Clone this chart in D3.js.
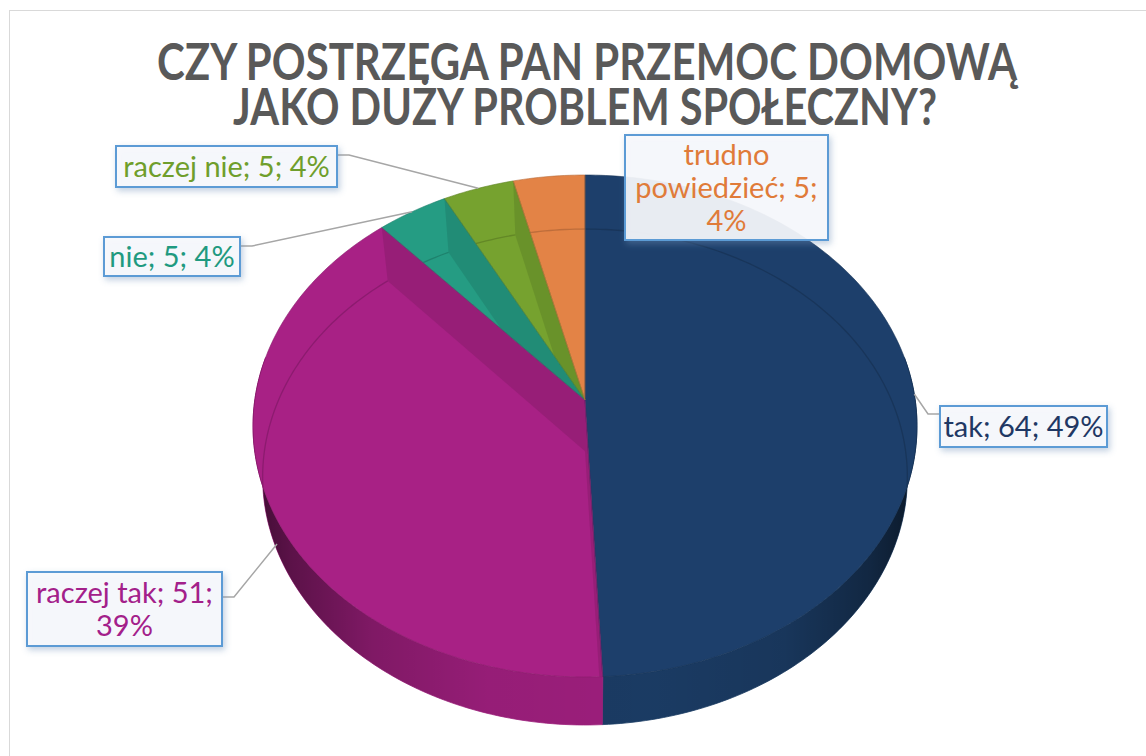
<!DOCTYPE html>
<html><head><meta charset="utf-8">
<script src="https://cdn.jsdelivr.net/npm/d3@7"></script>
<style>html,body{margin:0;padding:0;background:#fff;}svg{display:block;}</style>
</head><body>
<svg id="chart" width="1146" height="756"></svg>
<script>
// ---- data ----
const titleLines = ["CZY POSTRZEGA PAN PRZEMOC DOMOWĄ", "JAKO DUŻY PROBLEM SPOŁECZNY?"];
const categories = ["tak", "raczej tak", "nie", "raczej nie", "trudno powiedzieć"];
const values = [64, 51, 5, 5, 5];
const percents = ["49%", "39%", "4%", "4%", "4%"];
const sliceColors = ["#1d3f6b", "#a82185", "#259c83", "#76a22f", "#e38346"];
const textColors = ["#1f3864", "#a3208a", "#1f9a80", "#6f9e2b", "#e07b39"];

// ---- layout ----
const W = 1146, H = 756;
const cx = 585, cy = 400, S = 330.2, K = 248.3, P = 0.1036;
const botScale = 0.971, botA = 0.988, botB = 56.1;
const labelLayout = [
  {box: [940, 406, 167, 41], breaks: [], end: null},
  {box: [27, 572, 195, 74], breaks: [2], end: [277, 544]},
  {box: [104, 237, 136, 39], breaks: [], end: null},
  {box: [116, 146, 221, 41], breaks: [], end: null},
  {box: [625, 135, 203, 105], breaks: [0, 2], end: null}
];

const svg = d3.select("#chart");
const defs = svg.append("defs");

function proj(a, r) {
  const X = r * Math.sin(a), Z = -r * Math.cos(a);
  const w = 1 - P * Z;
  return [cx + S * X / w, cy + K * Z / w];
}
function bot(a, r) {
  const [x, y] = proj(a, r);
  return [cx + (x - cx) * botScale, botA * y + botB];
}
function rim(a0, a1, fn) {
  const n = Math.max(2, Math.ceil((a1 - a0) / (Math.PI / 180)));
  return d3.range(n + 1).map(i => fn(a0 + (a1 - a0) * i / n, 1));
}
const line = d3.line().curve(d3.curveLinear);

const arcs = d3.pie().sort(null).value(d => d)(values);

// border
svg.append("rect").attr("x", 9.5).attr("y", 10.5).attr("width", W + 20).attr("height", H + 20)
  .attr("fill", "#fff").attr("stroke", "#d9d9d9").attr("stroke-width", 1);

// side walls (front)
const deg = Math.PI / 180;
const sideG = svg.append("g");
arcs.forEach((d, i) => {
  const a0 = Math.max(d.startAngle, 80 * deg), a1 = Math.min(d.endAngle, 280 * deg);
  if (a1 <= a0) return;
  const pts = rim(a0, a1, proj).concat(rim(a0, a1, bot).reverse());
  sideG.append("path").attr("d", line(pts) + "Z")
    .attr("fill", d3.color(sliceColors[i]).darker(0.15)).attr("stroke", d3.color(sliceColors[i]).darker(0.15)).attr("stroke-width", 0.8);
});
const grad = defs.append("linearGradient").attr("id", "sideShade")
  .attr("gradientUnits", "userSpaceOnUse").attr("x1", 253).attr("x2", 917).attr("y1", 0).attr("y2", 0);
[[0, 0.6], [0.06, 0.42], [0.18, 0.2], [0.35, 0.06], [0.6, 0.02], [0.8, 0.1], [0.93, 0.35], [1, 0.6]]
  .forEach(([o, a]) => grad.append("stop").attr("offset", o).attr("stop-color", "#000").attr("stop-opacity", a));
{
  const pts = rim(80 * deg, 280 * deg, proj).concat(rim(80 * deg, 280 * deg, bot).reverse());
  sideG.append("path").attr("d", line(pts) + "Z").attr("fill", "url(#sideShade)");
}

// top faces
const topG = svg.append("g");
arcs.forEach((d, i) => {
  const pts = [proj(0, 0)].concat(rim(d.startAngle, d.endAngle, proj));
  const dStr = line(pts) + "Z";
  defs.append("clipPath").attr("id", "clip" + i).append("path").attr("d", dStr);
  topG.append("path").attr("d", dStr).attr("fill", sliceColors[i]);
});

// internal walls seen through top faces
const boundaries = arcs.map(d => d.endAngle).filter(a => a < 2 * Math.PI - 1e-6);
boundaries.forEach((b, k) => {
  const strip = [proj(b, 1), proj(b, 0), bot(b, 0), bot(b, 1)];
  [k, k + 1].forEach(i => {
    topG.append("path").attr("d", line(strip) + "Z").attr("clip-path", `url(#clip${i})`)
      .attr("fill", d3.color(sliceColors[i]).darker(0.4)).attr("opacity", 0.75);
  });
});
// bottom rim seen through
arcs.forEach((d, i) => {
  topG.append("path").attr("d", line(rim(d.startAngle, d.endAngle, bot)))
    .attr("clip-path", `url(#clip${i})`).attr("fill", "none")
    .attr("stroke", d3.color(sliceColors[i]).darker(0.9)).attr("stroke-opacity", 0.6).attr("stroke-width", 1.3);
});
// outlines
arcs.forEach((d, i) => {
  const pts = [proj(0, 0)].concat(rim(d.startAngle, d.endAngle, proj));
  topG.append("path").attr("d", line(pts) + "Z").attr("fill", "none")
    .attr("stroke", d3.color(sliceColors[i]).darker(0.6)).attr("stroke-opacity", 0.6).attr("stroke-width", 1);
});

// label shadow
const f = defs.append("filter").attr("id", "shadow").attr("x", "-20%").attr("y", "-20%").attr("width", "140%").attr("height", "150%");
f.append("feDropShadow").attr("dx", 2).attr("dy", 3).attr("stdDeviation", 3)
  .attr("flood-color", "#6f8fb8").attr("flood-opacity", 0.45);

// leader lines
const leaderG = svg.append("g").attr("fill", "none").attr("stroke", "#a6a6a6").attr("stroke-width", 1.5);
arcs.forEach((d, i) => {
  const L = labelLayout[i];
  const [bx, by, bw, bh] = L.box;
  const mid = (d.startAngle + d.endAngle) / 2;
  const end = L.end || proj(mid, 1);
  if (i === 4) return;
  let pts;
  if (end[0] > bx + bw) {
    const yy = by + Math.min(10, bh / 2) - 1 + (i === 1 ? 16 : 0);
    pts = [[bx + bw, yy], [bx + bw + 12, yy], end];
  } else {
    const yy = by + 8;
    pts = [[bx, yy], [bx - 12, yy], end];
  }
  leaderG.append("path").attr("d", line(pts));
});

// labels
const labG = svg.append("g").attr("font-family", "Lato, 'Open Sans', sans-serif").attr("font-size", 29);
arcs.forEach((d, i) => {
  const L = labelLayout[i];
  const [bx, by, bw, bh] = L.box;
  labG.append("rect").attr("x", bx).attr("y", by).attr("width", bw).attr("height", bh)
    .attr("fill", "rgba(248,250,253,0.9)").attr("stroke", "#5b9bd5").attr("stroke-width", 2)
    .attr("filter", "url(#shadow)");
  const words = `${categories[i]}; ${values[i]}; ${percents[i]}`.split(" ");
  const lines = [];
  let cur = [];
  words.forEach((w, wi) => { cur.push(w); if (L.breaks.includes(wi)) { lines.push(cur.join(" ")); cur = []; } });
  if (cur.length) lines.push(cur.join(" "));
  const lh = 33;
  const y0 = by + bh / 2 - (lines.length - 1) * lh / 2 + 10;
  lines.forEach((t, li) => {
    labG.append("text").attr("x", bx + bw / 2).attr("y", y0 + li * lh)
      .attr("text-anchor", "middle").attr("fill", textColors[i]).text(t);
  });
});

// title
const tG = svg.append("g").attr("font-family", "Lato, 'DejaVu Sans', sans-serif").attr("font-weight", "bold")
  .attr("font-size", 51).attr("fill", "#595959");
tG.append("text").attr("x", 157).attr("y", 80).attr("textLength", 860).attr("lengthAdjust", "spacingAndGlyphs").text(titleLines[0]);
tG.append("text").attr("x", 233).attr("y", 125).attr("textLength", 704).attr("lengthAdjust", "spacingAndGlyphs").text(titleLines[1]);
</script>
</body></html>
